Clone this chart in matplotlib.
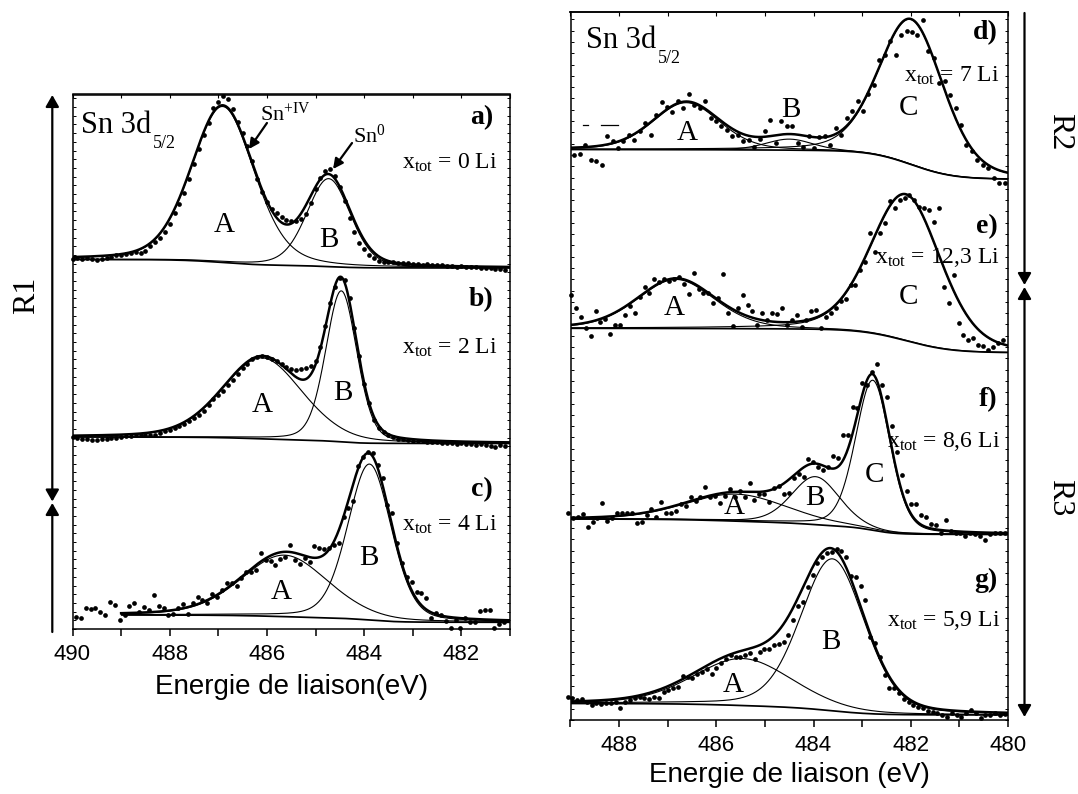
import numpy as np
import matplotlib
matplotlib.use("Agg")
import matplotlib.pyplot as plt
from matplotlib.ticker import MultipleLocator, NullFormatter
from matplotlib.patches import FancyArrowPatch, ArrowStyle

plt.rcParams['font.family'] = ['Liberation Serif', 'DejaVu Serif']
plt.rcParams['mathtext.fontset'] = 'custom'
plt.rcParams['mathtext.rm'] = 'Liberation Serif'
plt.rcParams['mathtext.it'] = 'Liberation Serif:italic'
plt.rcParams['mathtext.bf'] = 'Liberation Serif:bold'

W, H = 1078, 794

# ---------------- data (binding energy in eV, intensity in arbitrary offset units) ----------------
# panel a) x_tot = 0 Li
a_dots_range = (490.0, 481.1)
a_dots = [370, 371, 370.5, 371, 370, 369.5, 370.5, 371, 372.5, 374,
          373.7, 375, 375.7, 377, 376, 377.7, 383, 387, 391, 397,
          405, 416, 425, 436, 450, 465, 480, 494, 506, 521,
          527, 533, 530, 520, 507, 496, 483, 468, 450, 437,
          427, 420, 416, 412, 409, 408, 408, 410, 415, 426,
          440, 451, 458, 460, 453, 442, 428, 411, 397, 386,
          380, 374, 371, 368.5, 367.5, 367, 367, 366, 366.5, 366,
          365.5, 365, 364, 365, 364.5, 364, 364, 363, 363.5, 362.5,
          363, 362, 362.5, 362, 361.5, 361, 361.5, 360, 360.5, 359]
a_fit_range = (490.0, 481.0)
a_centers = [486.91, 484.73]
a_heights = [156, 88]
a_hwhm = [0.76, 0.53]
a_background = (369.5, 361.0)
a_shirley = [0, 1]

# panel b) x_tot = 2 Li
b_dots_range = (490.0, 481.1)
b_dots = [192, 191, 190.5, 190, 189.5, 189, 190, 190.5, 191, 191.5,
          192, 193, 193.5, 194, 194, 194.5, 194.5, 194.5, 196, 198,
          199.5, 201, 203, 205, 208, 211, 214, 218, 224, 230,
          234, 238.5, 244, 249, 255, 261, 265.5, 270, 272, 273,
          272.5, 270, 268, 265, 262, 260, 259.5, 260, 261.5, 263.5,
          268, 282, 303, 326, 342, 351, 349, 331, 301, 273,
          245, 226, 209, 201, 197, 194, 192, 190.5, 190, 189,
          188.5, 188, 188.5, 187.5, 187, 187.5, 186.5, 186, 186.5, 185.5,
          186, 185, 185.5, 184.5, 185, 184, 183.5, 182, 184, 183]
b_fit_range = (490.0, 481.0)
b_centers = [486.1, 484.47]
b_heights = [81, 151]
b_hwhm = [0.97, 0.38]
b_background = (192.0, 185.5)
b_shirley = [0, 1]

# panel c) x_tot = 4 Li
c_dots_range = (489.93, 481.12)
c_dots = [12.3, 10.7, 21.3, 20, 20.7, 17.3, 14, 27.3, 24, 9,
          14, 23.3, 25.7, 17.3, 22.3, 19, 34, 23.3, 20.7, 14,
          14.7, 20.7, 24.7, 14.7, 25.7, 32.3, 29, 25.7, 34.7, 32.3,
          39, 45.7, 45.7, 43.3, 51.3, 57.3, 57.3, 59, 75.7, 69,
          68, 64, 70, 72.3, 84, 69, 64.7, 70.7, 67.3, 83.3,
          80.7, 80, 80.7, 84, 85.7, 112.3, 120.7, 128, 163.3, 172.3,
          176.7, 175.7, 164, 150.7, 124, 115.7, 85.7, 65.7, 52.3, 47.3,
          37.3, 36.3, 30.7, 11.3, 15.7, 14, 8, 0.7, 9, 1.3,
          11.3, 7.3, 6.7, 18, 19, 19, 0.7, 4.7, 7.3]
c_fit_range = (489.0, 481.0)
c_centers = [485.64, 483.89]
c_heights = [61.5, 156]
c_hwhm = [1.05, 0.53]
c_background = (14.0, 6.7)
c_shirley = [0, 1]

# panel d) x_tot = 7 Li
d_dots_range = (488.92, 480.07)
d_dots = [565.3, 566, 575.3, 560.3, 558.7, 555.3, 583.7, 578.7, 572, 578.7,
          585.3, 580.3, 588.7, 597, 585.3, 604.7, 618, 612.7, 608, 619.3,
          612, 626, 615.3, 612, 618.7, 602, 598.7, 593.7, 590.3, 583.7,
          585.3, 579.3, 580.3, 572.7, 581.3, 588.7, 600.3, 577, 598.7, 593.7,
          593.7, 577, 572.7, 583.7, 572, 582.7, 583.7, 575.3, 592, 585.3,
          602, 608.7, 618.7, 608.7, 626, 635.3, 660.3, 664.7, 678.7, 665.3,
          685.3, 688.7, 688, 685.3, 700.3, 668.7, 662, 637, 639.3, 625.3,
          612, 595.3, 575.3, 568.7, 560.3, 555.3, 552, 542, 537, 537]
d_fit_range = (489.0, 480.0)
d_centers = [486.62, 484.5, 481.99]
d_heights = [47, 11, 145]
d_hwhm = [0.81, 0.57, 0.78]
d_background = (570.5, 541.0)
d_shirley = [2]

# panel e) x_tot = 12,3 Li
e_dots_range = (488.99, 480.11)
e_dots = [425, 411.7, 402.7, 391.7, 384.3, 409.3, 398.3, 400.7, 385.7, 395,
          395, 405, 414, 407.3, 423.3, 433.3, 427.3, 440.7, 438.3, 440.7,
          439.3, 440.7, 443.3, 435.7, 426, 447.3, 431.3, 426.7, 426.7, 416.7,
          421.7, 446, 407.3, 394.3, 411.7, 425, 415, 409.3, 395, 407.3,
          400, 407.3, 406, 411.7, 395, 400, 405, 393.3, 400, 409.3,
          410, 391.7, 403.3, 406.7, 411.7, 419.3, 420.7, 435, 435, 450,
          458.3, 486.7, 468.3, 487.3, 497.3, 519.3, 511.7, 520, 521.7, 525,
          520, 513.3, 511.7, 510, 498.3, 511.7, 433.3, 416.7, 445, 396.7,
          385, 380, 381.7, 375, 374.3, 370, 373.3, 376.7, 380]
e_fit_range = (489.0, 480.0)
e_centers = [486.83, 482.1]
e_heights = [49, 146]
e_hwhm = [0.94, 0.85]
e_background = (391.7, 367.5)
e_shirley = [1]

# panel f) x_tot = 8,6 Li
f_dots_range = (489.05, 480.07)
f_dots = [207.3, 201.7, 203.3, 206, 193.3, 198.3, 201.7, 217.3, 199.3, 201.7,
          206.7, 206.7, 206.7, 206.7, 197.3, 198.3, 205, 210.7, 202.7, 218.3,
          207.3, 206.7, 209.3, 216, 214, 222.7, 219.3, 223.3, 233.3, 223.3,
          224, 216.7, 224, 230.7, 223.3, 229.3, 223.3, 236.7, 220, 226,
          226, 218.3, 231.7, 234.3, 226, 227.3, 241.7, 246, 243.3, 260.7,
          258.3, 253.3, 250, 252.7, 264, 261.7, 285, 285, 313.3, 311.7,
          336.7, 335, 348.3, 356, 335, 322.7, 294, 268.3, 245, 229.3,
          216, 216, 205, 203.3, 196, 195, 187.3, 200, 189.3, 187.3,
          187.3, 184, 187.3, 186, 184, 180, 186, 186.7, 187.3, 186.7]
f_fit_range = (489.0, 480.0)
f_centers = [485.59, 483.96, 482.78]
f_heights = [27, 48, 150]
f_hwhm = [1.23, 0.58, 0.42]
f_background = (201.0, 185.5)
f_shirley = [0, 1, 2]

# panel g) x_tot = 5,9 Li
g_dots_range = (489.06, 480.07)
g_dots = [23.3, 21.7, 20, 20.7, 18.3, 15, 17.3, 16, 16.7, 17.3,
          18.3, 11.7, 18.3, 20, 21.7, 22.7, 21.7, 20.7, 23.3, 21.7,
          28.3, 30, 31.7, 33.3, 44, 43.3, 41.7, 46, 48.3, 50.7,
          46, 51.7, 56.7, 60.7, 65, 63.3, 63.3, 65, 66.7, 60.7,
          68.3, 70.7, 70.7, 75, 76, 78.3, 85, 100, 114, 118.3,
          133.3, 145, 157.3, 162.7, 166.7, 168.3, 170.7, 169.3, 162.7, 144,
          142.7, 134, 120, 83.3, 76.7, 63.3, 45, 31.7, 31.7, 26.7,
          20.7, 18.3, 15, 12.7, 11.7, 9.3, 8.3, 7.3, 5, 3.3,
          6.7, 5, 3.3, 6.7, 10, 6.7, 1.7, 5, 5, 7.3,
          5, 6]
g_fit_range = (489.0, 480.0)
g_centers = [485.46, 483.61]
g_heights = [47, 152]
g_hwhm = [1.2, 0.78]
g_background = (16.5, 5.0)
g_shirley = [0, 1]

x_tot_labels = ["0", "2", "4", "7", "12,3", "8,6", "5,9"]
panel_letters = ["a)", "b)", "c)", "d)", "e)", "f)", "g)"]
x_label_left = "Energie de liaison(eV)"
x_label_right = "Energie de liaison (eV)"

# ---------------- helpers ----------------
LORENTZ_FRACTION = 0.25


def gl(E, c, h, w):
    u = ((E - c) / w) ** 2
    return h * ((1 - LORENTZ_FRACTION) * np.exp(-np.log(2) * u) + LORENTZ_FRACTION / (1 + u))


def draw_panel(ax, dots, drange, frange, centers, heights, widths, bg, shirley_idx):
    E = np.linspace(frange[0], frange[1], 700)
    comps = [gl(E, c, h, w) for c, h, w in zip(centers, heights, widths)]
    src = sum(comps[i] for i in shirley_idx)
    cum = np.cumsum(src[::-1])[::-1]
    frac = cum / cum[0]
    base = bg[1] + (bg[0] - bg[1]) * frac
    ax.plot(E, base, color='k', lw=1.25, solid_capstyle='butt')
    for comp in comps:
        ax.plot(E, base + comp, color='k', lw=0.8)
    ax.plot(E, base + sum(comps), color='k', lw=1.8)
    Ed = np.linspace(drange[0], drange[1], len(dots))
    ax.plot(Ed, dots, 'o', ms=3.4, mfc='k', mec='k', mew=0, clip_on=False)


fig = plt.figure(figsize=(W / 100, H / 100), dpi=100)


def add_axes_px(x0, x1, y0, y1):
    return fig.add_axes([x0 / W, 1 - y1 / H, (x1 - x0) / W, (y1 - y0) / H])


axL = add_axes_px(72.5, 510, 94.5, 629)
axR = add_axes_px(570.5, 1008, 12, 720)
axL.set_xlim(490, 481)
axL.set_ylim(0, 534.5)
axR.set_xlim(489, 480)
axR.set_ylim(0, 708)

for ax, ystep in ((axL, 8.7), (axR, 11.3)):
    for s in ax.spines.values():
        s.set_linewidth(1.1)
    ax.xaxis.set_major_locator(MultipleLocator(2))
    ax.xaxis.set_minor_locator(MultipleLocator(1))
    ax.tick_params(axis='x', which='both', direction='out', length=5, width=1.1,
                   labelsize=16, pad=6, labelfontfamily='Liberation Sans')
    ax.yaxis.set_major_locator(MultipleLocator(ystep))
    ax.tick_params(axis='y', which='both', left=True, right=True, direction='in',
                   length=2.5, width=0.7, labelleft=False)
    top = ax.secondary_xaxis('top')
    top.xaxis.set_major_locator(MultipleLocator(1))
    top.xaxis.set_major_formatter(NullFormatter())
    top.tick_params(direction='in', length=3, width=0.8)
    top.spines['top'].set_linewidth(1.1)

axL.set_xlabel(x_label_left, fontsize=20, family='Liberation Sans', labelpad=6)
axR.set_xlabel(x_label_right, fontsize=20, family='Liberation Sans', labelpad=4)

draw_panel(axL, a_dots, a_dots_range, a_fit_range, a_centers, a_heights, a_hwhm, a_background, a_shirley)
draw_panel(axL, b_dots, b_dots_range, b_fit_range, b_centers, b_heights, b_hwhm, b_background, b_shirley)
draw_panel(axL, c_dots, c_dots_range, c_fit_range, c_centers, c_heights, c_hwhm, c_background, c_shirley)
draw_panel(axR, d_dots, d_dots_range, d_fit_range, d_centers, d_heights, d_hwhm, d_background, d_shirley)
draw_panel(axR, e_dots, e_dots_range, e_fit_range, e_centers, e_heights, e_hwhm, e_background, e_shirley)
draw_panel(axR, f_dots, f_dots_range, f_fit_range, f_centers, f_heights, f_hwhm, f_background, f_shirley)
draw_panel(axR, g_dots, g_dots_range, g_fit_range, g_centers, g_heights, g_hwhm, g_background, g_shirley)

# ---------------- annotations ----------------
LET = 21
PAN = 20
XT = 17


def xtot(n):
    return r'x$_{\mathregular{tot}}$ = ' + n + ' Li'


def sn_title(ax, x, y):
    t = ax.text(x, y, 'Sn 3d', fontsize=22, ha='left', va='baseline')
    fig.canvas.draw()
    bb = t.get_window_extent()
    base_y = ax.transData.transform((x, y))[1]
    fig.text((bb.x1 + 2) / W, (base_y - 15) / H, '5/2', fontsize=13, ha='left', va='baseline')


sn_title(axL, 489.83, 496)
sn_title(axR, 488.68, 672)

# left panel labels
for letter, y in zip(panel_letters[:3], (511, 329, 139)):
    axL.text(481.35, y, letter, fontsize=PAN, fontweight='bold', ha='right', va='center')
for n, y in zip(x_tot_labels[:3], (466, 281, 104)):
    axL.text(481.25, y, xtot(n), fontsize=XT, ha='right', va='center')
for s, x, y in (("A", 486.88, 404), ("B", 484.72, 389), ("A", 486.09, 224),
                ("B", 484.44, 236), ("B", 483.9, 71), ("A", 485.71, 37)):
    axL.text(x, y, s, fontsize=LET, ha='center', va='center')

axL.text(485.62, 515, r'Sn$^{\mathregular{+IV}}$', fontsize=16, ha='center', va='center')
axL.text(483.9, 493, r'Sn$^{\mathregular{0}}$', fontsize=16, ha='center', va='center')
axL.annotate('', xy=(486.37, 480), xytext=(486.0, 506),
             arrowprops=dict(arrowstyle='-|>', mutation_scale=15, lw=1.6, color='k',
                             shrinkA=0, shrinkB=0))
axL.annotate('', xy=(484.64, 460), xytext=(484.25, 486),
             arrowprops=dict(arrowstyle='-|>', mutation_scale=15, lw=1.6, color='k',
                             shrinkA=0, shrinkB=0))

# right panel labels
for letter, y in zip(panel_letters[3:], (687, 493, 320, 140)):
    axR.text(480.21, y, letter, fontsize=PAN, fontweight='bold', ha='right', va='center')
for n, y in zip(x_tot_labels[3:], (644, 462, 278, 100)):
    axR.text(480.17, y, xtot(n), fontsize=XT, ha='right', va='center')
for s, x, y in (("A", 486.59, 587), ("B", 484.46, 610), ("C", 482.04, 612),
                ("A", 486.87, 412), ("C", 482.04, 423),
                ("C", 482.75, 245), ("B", 483.98, 222), ("A", 485.63, 213),
                ("B", 483.64, 78), ("A", 485.66, 35)):
    axR.text(x, y, s, fontsize=LET, ha='center', va='center')

# stray dash marks in panel d
axR.plot([488.75, 488.65], [595.3, 595.3], color='k', lw=0.9)
axR.plot([488.37, 488.02], [595.3, 595.3], color='k', lw=0.9)

# ---------------- region arrows ----------------
big = ArrowStyle('-|>', head_length=7, head_width=4)
dbl = ArrowStyle('<|-|>', head_length=7, head_width=4)


def farrow(x, y0, y1, style):
    p = FancyArrowPatch((x / W, 1 - y0 / H), (x / W, 1 - y1 / H), transform=fig.transFigure,
                        arrowstyle=style, mutation_scale=1, lw=1.6, color='k',
                        shrinkA=0, shrinkB=0)
    fig.add_artist(p)


farrow(52.3, 501.5, 95, dbl)
farrow(52.3, 632, 503, big)
farrow(1024.5, 13, 285, big)
farrow(1024.5, 287, 717, dbl)

fig.text(26.7 / W, 1 - 295 / H, 'R1', fontsize=23, rotation=90, ha='center', va='center')
fig.text(1060 / W, 1 - 132 / H, 'R2', fontsize=23, rotation=270, ha='center', va='center')
fig.text(1060 / W, 1 - 498 / H, 'R3', fontsize=23, rotation=270, ha='center', va='center')

fig.savefig('out.png', dpi=100)
